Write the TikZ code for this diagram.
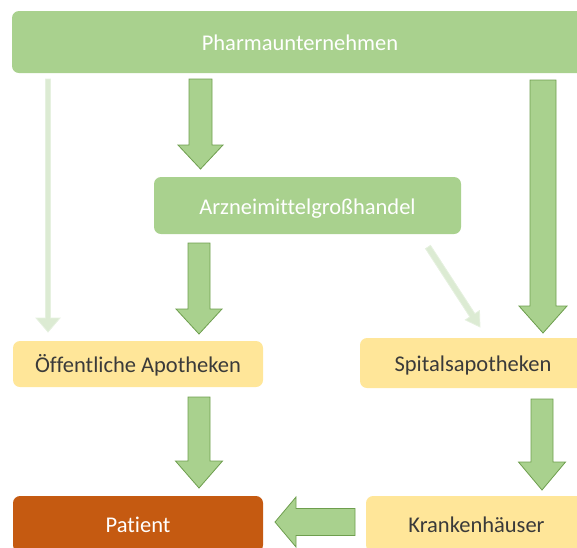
\documentclass[tikz,border=0pt]{standalone}
\usepackage{fontspec}
\setmainfont{Carlito}[Ligatures=NoCommon]
\usetikzlibrary{calc}
\definecolor{pgreen}{HTML}{A9D18E}
\definecolor{pgreenline}{HTML}{6E9E4E}
\definecolor{lgreen}{HTML}{DCEBD3}
\definecolor{lgreenline}{HTML}{E6F1E0}
\definecolor{pyellow}{HTML}{FFE699}
\definecolor{porange}{HTML}{C55A11}
\definecolor{ptext}{HTML}{3A3A3A}
\newcommand\blockarrow[6]{%
  \coordinate (ba-h) at ($(#3)!#6!(#2)$);
  \draw[#1] ($(#2)!#4!90:(#3)$) -- ($(ba-h)!#4!90:(#3)$) -- ($(ba-h)!#5!90:(#3)$)
    -- (#3) -- ($(ba-h)!#5!-90:(#3)$) -- ($(ba-h)!#4!-90:(#3)$) -- ($(#2)!#4!-90:(#3)$) -- cycle;}
\tikzset{
  box/.style={rounded corners=7pt, inner sep=0pt, text height=17pt, text depth=0pt,
    font=\fontsize{22.5}{26}\selectfont},
  greenbox/.style={box, fill=pgreen, text=white},
  yellowbox/.style={box, fill=pyellow, text=ptext},
  orangebox/.style={box, fill=porange, text=white},
  bigarrow/.style={fill=pgreen, draw=pgreenline, line width=0.8pt, line join=miter},
  thinarrow/.style={fill=lgreen, draw=lgreenline, line width=0.8pt, line join=miter}
}
\begin{document}
\begin{tikzpicture}[x=1pt,y=-1pt]
\useasboundingbox (0,0) rectangle (577,547);
\clip (0,0) rectangle (577,547);
\node[greenbox, minimum width=576pt, minimum height=62pt] (pharma) at (300,42) {Pharmaunternehmen};
\node[greenbox, minimum width=307pt, minimum height=57pt] (gross) at (307.5,205.5) {Arzneimittelgroßhandel};
\node[yellowbox, minimum width=250pt, minimum height=46pt] (oeff) at (138,364) {Öffentliche Apotheken};
\node[yellowbox, minimum width=226pt, minimum height=50pt] (spital) at (473,363) {Spitalsapotheken};
\node[orangebox, minimum width=250pt, minimum height=56pt] (patient) at (138,524) {Patient};
\node[yellowbox, minimum width=221pt, minimum height=56pt] (kranken) at (476.5,524) {Krankenhäuser};
% connector ends
\coordinate (a1s) at (48,79);   \coordinate (a1e) at (48,332);
\coordinate (a2s) at (200.5,79); \coordinate (a2e) at (200.5,169);
\coordinate (a3s) at (199,243); \coordinate (a3e) at (199,334);
\coordinate (a4s) at (543,80);  \coordinate (a4e) at (543,333);
\coordinate (a5s) at (428,247); \coordinate (a5e) at (480,327);
\coordinate (a6s) at (199,397); \coordinate (a6e) at (199,488);
\coordinate (a7s) at (542,399); \coordinate (a7e) at (542,490);
\coordinate (a8s) at (355,522); \coordinate (a8e) at (275,522);
\blockarrow{thinarrow}{a1s}{a1e}{2.5pt}{12pt}{14pt}
\blockarrow{bigarrow}{a2s}{a2e}{11.5pt}{22.5pt}{24pt}
\blockarrow{bigarrow}{a3s}{a3e}{11pt}{23pt}{25pt}
\blockarrow{bigarrow}{a4s}{a4e}{13pt}{24pt}{27pt}
\blockarrow{thinarrow}{a5s}{a5e}{3pt}{8.5pt}{14pt}
\blockarrow{bigarrow}{a6s}{a6e}{11pt}{23.5pt}{27pt}
\blockarrow{bigarrow}{a7s}{a7e}{11pt}{23.5pt}{28pt}
\blockarrow{bigarrow}{a8s}{a8e}{13.5pt}{25pt}{21pt}
\end{tikzpicture}
\end{document}
